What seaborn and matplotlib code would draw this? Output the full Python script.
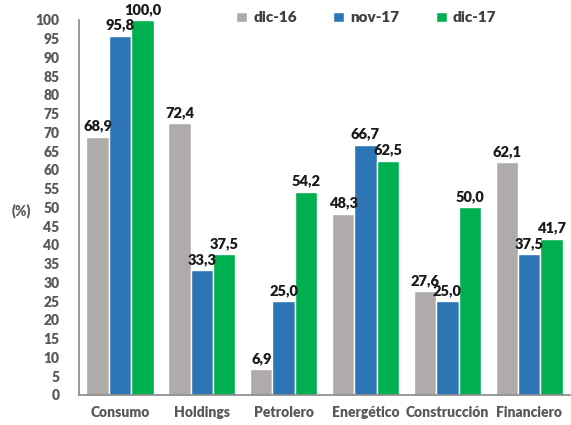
import matplotlib
matplotlib.use("Agg")
import matplotlib.pyplot as plt
import seaborn as sns
import pandas as pd

sectores = ["Consumo", "Holdings", "Petrolero", "Energético", "Construcción", "Financiero"]
dic16 = [68.9, 72.4, 6.9, 48.3, 27.6, 62.1]
nov17 = [95.8, 33.3, 25.0, 66.7, 25.0, 37.5]
dic17 = [100.0, 37.5, 54.2, 62.5, 50.0, 41.7]
series = ["dic-16", "nov-17", "dic-17"]
colores = ["#AFABAB", "#2E75B6", "#00B050"]
yticks = list(range(0, 101, 5))

df = pd.DataFrame({
    "sector": sectores * 3,
    "periodo": [s for s in series for _ in sectores],
    "valor": dic16 + nov17 + dic17,
})

sns.set_theme(style="white")
plt.rcParams["font.family"] = ["Lato", "DejaVu Sans"]

fig = plt.figure(figsize=(5.71, 4.25), dpi=100)
ax = fig.add_axes([0.1384, 0.0706, 0.86, 0.8824])

sns.barplot(data=df, x="sector", y="valor", hue="periodo", hue_order=series,
            palette=colores, order=sectores, width=0.82, saturation=1,
            ax=ax, legend=True)

for cont in ax.containers:
    labels = [f"{v:.1f}".replace(".", ",") for v in cont.datavalues]
    ax.bar_label(cont, labels=labels, padding=3, fontsize=10.5,
                 fontweight="heavy", color="#1a1a1a")

ax.set_ylim(0, 100)
ax.set_xlim(-0.5, 5.5)
ax.set_yticks(yticks)
ax.set_yticklabels([str(t) for t in yticks])
ax.tick_params(axis="both", length=0, colors="#595959", labelsize=10)
ax.tick_params(axis="y", pad=14)
ax.tick_params(axis="x", pad=8)
for lab in ax.get_xticklabels() + ax.get_yticklabels():
    lab.set_fontweight("heavy")
ax.set_xlabel("")
ax.set_ylabel("")
for side in ["top", "right"]:
    ax.spines[side].set_visible(False)
ax.spines["left"].set_color("#8c8c8c")
ax.spines["bottom"].set_color("#8c8c8c")

fig.text(0.021, 0.505, "(%)", fontsize=10, fontweight="heavy", color="#595959",
         va="center", ha="left")

handles, labels = ax.get_legend_handles_labels()
ax.legend(handles, labels, loc="upper center", bbox_to_anchor=(0.585, 1.06),
          ncol=3, frameon=False, handlelength=0.7,
          handleheight=0.7, columnspacing=2.4, handletextpad=0.4,
          prop={"weight": "heavy", "size": 11})
for t in ax.get_legend().get_texts():
    t.set_color("#404040")

fig.savefig("out.png", dpi=100)
